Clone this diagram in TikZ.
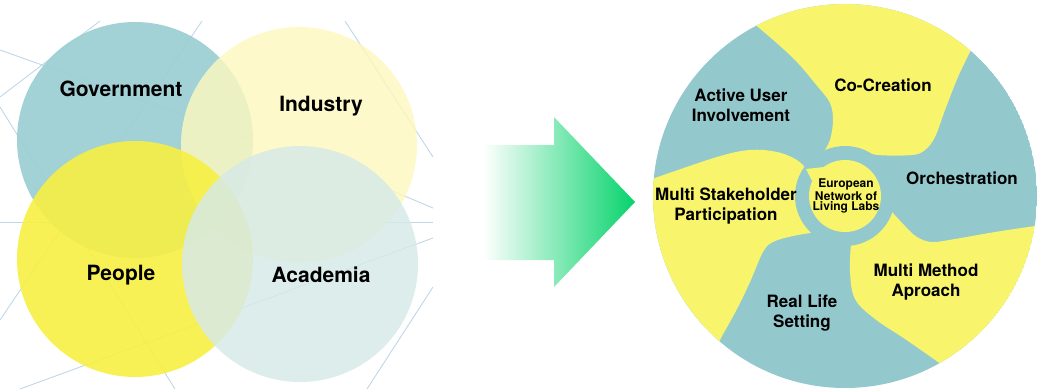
\documentclass[tikz,border=0pt]{standalone}
\usepackage{fontspec}
\setmainfont{TeX Gyre Heros}
\usepackage{tikz}
\definecolor{govteal}{HTML}{9DCFD3}
\definecolor{indyellow}{HTML}{FCF8BE}
\definecolor{pplyellow}{HTML}{F7F042}
\definecolor{acadteal}{HTML}{D6EAE8}
\definecolor{netline}{HTML}{BFD7E8}
\definecolor{wheelteal}{HTML}{93C9CD}
\definecolor{wheelyellow}{HTML}{F8F46C}
\definecolor{arrowgreen}{HTML}{06D36C}

\begin{document}
\begin{tikzpicture}[x=1pt,y=-1pt]
    \tikzstyle{netw}=[draw=netline, line width=0.9pt]
    \tikzstyle{big}=[font=\fontsize{21}{25}\selectfont\bfseries]
    \tikzstyle{blade}=[font=\fontsize{17}{20}\selectfont\bfseries, align=center]
    \tikzstyle{hub}=[font=\fontsize{12}{10.5}\selectfont\bfseries, align=center]

    \useasboundingbox (0,0) rectangle (1044,389);

    % network lines behind the venn
    \begin{scope}
      \clip (0,21) rectangle (433,389);
      \draw[netw] (0,50) -- (250,139);
      \draw[netw] (100,21) -- (0,97);
      \draw[netw] (202,21) -- (0,320);
      \draw[netw] (0,107) -- (175,389);
      \draw[netw] (0,222) -- (433,222);
      \draw[netw] (433,238) -- (20,389);
      \draw[netw] (300,152) -- (433,208);
      \draw[netw] (433,287) -- (367,389);
      \draw[netw] (345,21) -- (433,157);
    \end{scope}

    % four sectors
    \fill[govteal, fill opacity=0.94] (135,140) circle (118pt);
    \fill[indyellow, fill opacity=0.82] (299,145) circle (118pt);
    \fill[pplyellow, fill opacity=0.9] (135,259) circle (118pt);
    \fill[acadteal, fill opacity=0.84] (300,264) circle (118pt);

    \node[big] (gov) at (121,89) {Government};
    \node[big] (ind) at (321,106) {Industry};
    \node[big] (ppl) at (121,275) {People};
    \node[big] (acad) at (321,275) {Academia};

    % transition arrow
    \shade[left color=white, middle color=arrowgreen!33!white, right color=arrowgreen]
      (483,145) -- (554,145) -- (554,117) -- (635,202) -- (554,287) -- (554,260) -- (483,260) -- cycle;

    % living lab wheel
    \begin{scope}
      \clip (845,196) circle (192pt);
      \fill[wheelteal] (845,196) circle (192pt);
      \fill[wheelyellow] (735,6)
        -- plot[smooth, tension=0.6] coordinates {(758,27) (793,58) (818,87) (830,103) (833,120) (830,140) (823,153)}
        -- (845,196)
        -- plot[smooth, tension=0.6] coordinates {(858,150) (878,155) (912,155) (925,150) (935,137) (945,110) (958,77) (970,52)}
        -- (982,27) -- (870,-40) -- cycle;
      \fill[wheelyellow] (845,196)
        -- plot[smooth, tension=0.6] coordinates {(892,212) (905,226) (917,237) (932,242) (955,239) (995,232) (1035,226)}
        -- (1065,222) -- (1080,300) -- (980,420) -- (960,378)
        -- plot[smooth, tension=0.6] coordinates {(938,362) (905,339) (875,319) (855,299) (850,272) (851,244)}
        -- cycle;
      \fill[wheelyellow] (625,188)
        -- plot[smooth, tension=0.6] coordinates {(655,178) (717,157) (750,150) (777,152) (797,160) (807,170)}
        -- (845,196)
        -- plot[smooth, tension=0.6] coordinates {(817,232) (793,236) (773,242) (763,252) (750,282) (737,309) (722,336)}
        -- (710,360) -- (600,300) -- cycle;
    \end{scope}
    \fill[wheelteal] (845,196) circle (50pt);
    \fill[wheelyellow] (845,196) circle (36pt);
    \fill[wheelyellow] (824,167) -- (806,169) -- (812,181) -- cycle;

    \node[blade] (user) at (741,105) {Active User\\Involvement};
    \node[blade] (cocr) at (883,85) {Co-Creation};
    \node[blade] (orch) at (962,178) {Orchestration};
    \node[blade] (stake) at (726,206) {Multi Stakeholder\\Participation};
    \node[blade] (method) at (926,282) {Multi Method\\Aproach};
    \node[blade] (real) at (802,313) {Real Life\\Setting};
    \node[hub] (enoll) at (846,196) {European\\Network of\\Living Labs};
  \end{tikzpicture}
\end{document}
